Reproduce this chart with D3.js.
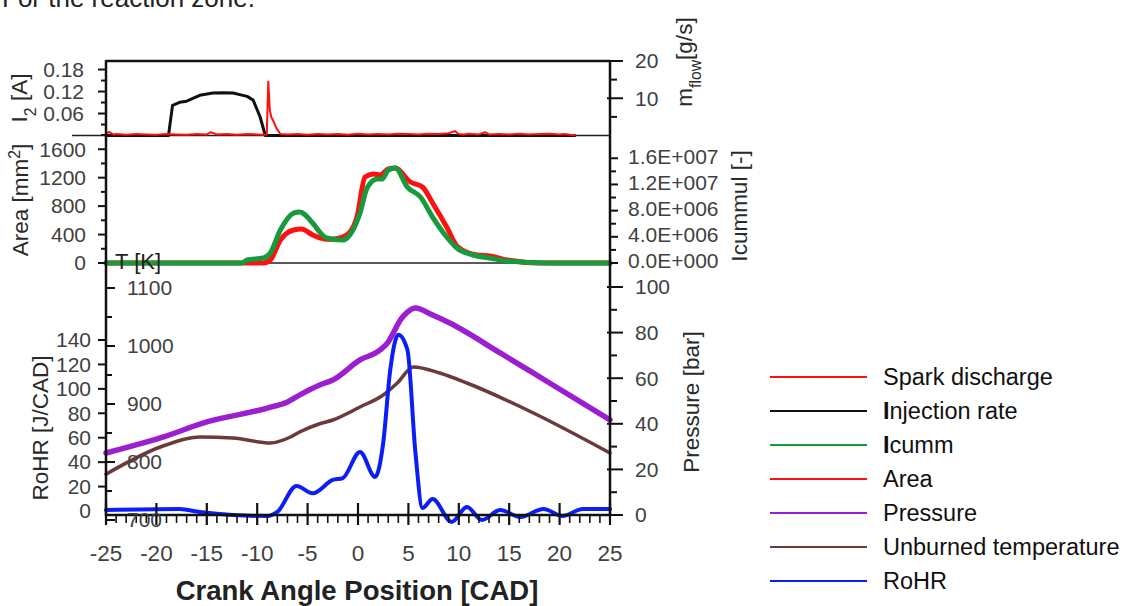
<!DOCTYPE html>
<html><head><meta charset="utf-8">
<script src="https://cdn.jsdelivr.net/npm/d3@7"></script>
<style>body{margin:0;background:#fff} svg{display:block} text{font-family:"Liberation Sans",Arial,sans-serif}</style>
</head><body><svg id="c" width="1127" height="606"></svg>
<script>
// ---------- data ----------
const xTicks = [-25,-20,-15,-10,-5,0,5,10,15,20,25];
// Panel 1: spark discharge current I2 [A] (left) and injection rate [g/s] (right)
const sparkCad = [-25,-24.7,-24.3,-24,-23,-22,-21,-20,-19,-18,-17,-16,-15,-14.6,-14,-13,-12,-11,-10,-9.5,-9.05,-8.9,-8.75,-8.6,-8.4,-8.1,-7.7,-7,-6,-5,-4,-3,-2,-1,0,1,2,3,4,5,6,7,8,9,9.6,10,10.5,11,12,12.6,13,14,15,16,17,18,19,20,20.5,21,21.5];
const sparkCurrent = [0.004,0.01,0.003,0.004,0.002,0.004,0.003,0.002,0.004,0.003,0.002,0.004,0.003,0.009,0.003,0.004,0.002,0.004,0.003,0.002,0.003,0.147,0.07,0.05,0.04,0.02,0.004,0.003,0.004,0.002,0.004,0.003,0.004,0.002,0.005,0.003,0.004,0.003,0.005,0.004,0.003,0.005,0.004,0.006,0.012,0.004,0.003,0.005,0.003,0.009,0.003,0.004,0.003,0.005,0.003,0.004,0.005,0.003,0.004,0.002,0.001];
const injCad = [-25,-18.8,-18.4,-17.7,-17.0,-15.7,-14.4,-13.4,-12.4,-11.0,-10.4,-9.7,-9.2,21.5];
const injRate = [0,0,8.1,8.9,9.2,10.8,11.4,11.5,11.4,10.5,9.5,4.9,0,0];
// Panel 2: flame area [mm2] (left) and cumulative intensity (right)
const areaCad = [-25,-9.4,-8.7,-7.7,-6.4,-5.6,-4.5,-3.8,-2.8,-1.8,-0.8,-0.1,0.7,1.5,2.2,3.0,3.7,5.2,6.4,7.4,8.8,9.9,11.8,13.1,14.8,18.1,25];
const areaVal = [0,0,42,323,464,478,394,352,330,352,436,647,1209,1252,1237,1322,1336,1139,1069,844,506,225,112,98,42,0,0];
const icummCad = [-25,-11.5,-11.0,-9.4,-8.7,-7.7,-6.4,-5.8,-4.5,-3.8,-3.1,-1.5,-0.5,0.2,0.9,1.9,2.4,3.0,3.7,4.9,6.2,7.4,8.8,9.8,11.4,13.1,14.8,19,25];
const icummVal = [0,0,0.46e6,0.76e6,1.53e6,5.04e6,7.63e6,7.79e6,6.11e6,4.73e6,3.82e6,3.51e6,5.04e6,7.63e6,11.45e6,12.82e6,12.82e6,14.2e6,14.5e6,11.6e6,10.08e6,7.02e6,3.97e6,2.29e6,1.22e6,0.76e6,0.31e6,0,0];
// Panel 3: pressure [bar], unburned temperature [K], RoHR [J/CAD]
const presCad = [-25,-19.6,-15,-9.0,-7.0,-5.8,-3.8,-2.5,0.2,2.2,3.0,3.5,4.2,4.9,5.7,7.4,9.1,14.1,19.0,25];
const presVal = [27.2,33.8,40.8,46.9,49.6,52.6,57.0,59.2,68.0,72.4,75.9,79.8,85.5,89.0,90.8,87.7,84.2,71.1,57.9,41.7];
const tempCad = [-25,-19.6,-15.7,-12.4,-8.7,-6.7,-5.8,-3.8,-2.5,0.2,2.5,3.9,5.5,8.1,10.8,17.4,25];
const tempVal = [779,825.9,843.1,841.4,832.8,843.1,851.7,866,872.4,894.8,915.5,936.2,963.8,953.4,936.2,884.5,815.5];
const rohrCad = [-25,-17.7,-15.7,-12.4,-9.0,-8.0,-6.1,-4.5,-2.5,-1.5,0.2,1.7,2.5,3.2,4.0,4.9,5.7,6.4,7.4,9.3,10.8,12.3,14.1,16.1,18.4,20.3,22.3,25];
const rohrVal = [0.8,1.6,-0.8,-3.3,-4.1,-0.8,20.5,14.5,25.4,27,48.4,27.9,55.7,115.6,144.3,132,47.5,2.5,9.8,-9,3.3,-7.4,0.8,-4.9,1.6,-4.1,1.6,1.6];
// tick labels
const i2Ticks = [0.06,0.12,0.18];
const flowTicks = [10,20];
const areaTicks = [0,400,800,1200,1600];
const icummTicks = [0,4e6,8e6,12e6,16e6];
const icummLabels = ["0.0E+000","4.0E+006","8.0E+006","1.2E+007","1.6E+007"];
const rohrTicks = [0,20,40,60,80,100,120,140];
const tempTicks = [700,800,900,1000,1100];
const presTicks = [0,20,40,60,80,100];
const legendNames = ["Spark discharge","Injection rate","Icumm","Area","Pressure","Unburned temperature","RoHR"];
const legendColors = ["#ff1010","#111111","#169a3c","#ff1010","#9b1fd0","#6b3a3a","#0a1ef5"];

// ---------- layout ----------
const svg = d3.select("#c");
const X0 = 106, X1 = 610;
const x = d3.scaleLinear().domain([-25,25]).range([X0,X1]);
const yI2 = d3.scaleLinear().domain([0,0.2]).range([135.5,62.2]);
const yFlow = d3.scaleLinear().domain([0,20]).range([135.5,61]);
const yArea = d3.scaleLinear().domain([0,1800]).range([263,135]);
const yIc = d3.scaleLinear().domain([0,1.94e7]).range([263,136]);
const yRohr = d3.scaleLinear().domain([0,140]).range([511,340]);
const yT = d3.scaleLinear().domain([700,1100]).range([520,288]);
const yP = d3.scaleLinear().domain([0,100]).range([515,287]);
const LAB = "#404040";

svg.append("text").attr("x",2).attr("y",7).attr("font-size",26).attr("fill","#222").text("For the reaction zone.");

function line(cad, vals, ys, color, w, curve){
  const data = cad.map((c,i)=>[c, vals[i]]);
  svg.append("path").datum(data)
    .attr("d", d3.line().x(d=>x(d[0])).y(d=>ys(d[1])).curve(curve||d3.curveMonotoneX))
    .attr("fill","none").attr("stroke",color).attr("stroke-width",w)
    .attr("stroke-linejoin","round").attr("stroke-linecap","round");
}

// frame lines
svg.append("line").attr("x1",X0).attr("x2",X1).attr("y1",61).attr("y2",61).attr("stroke","#111").attr("stroke-width",2.5);
svg.append("line").attr("x1",72).attr("x2",X1).attr("y1",135.5).attr("y2",135.5).attr("stroke","#222").attr("stroke-width",1.5);
svg.append("line").attr("x1",110).attr("x2",X1).attr("y1",263).attr("y2",263).attr("stroke","#222").attr("stroke-width",1.5);

// data lines
line(injCad, injRate, yFlow, "#111", 3, d3.curveLinear);
line(sparkCad, sparkCurrent, yI2, "#ff1010", 2, d3.curveLinear);
line(areaCad, areaVal, yArea, "#ff1010", 5);
line(icummCad, icummVal, yIc, "#169a3c", 5);
line(presCad, presVal, yP, "#9b1fd0", 5.5);
line(tempCad, tempVal, yT, "#6b3a3a", 3.5);
line(rohrCad, rohrVal, yRohr, "#0a1ef5", 4);

// axes lines
svg.append("line").attr("x1",X0).attr("x2",X0).attr("y1",60).attr("y2",516).attr("stroke","#111").attr("stroke-width",2.5);
svg.append("line").attr("x1",X1).attr("x2",X1).attr("y1",60).attr("y2",516).attr("stroke","#111").attr("stroke-width",2.5);
svg.append("line").attr("x1",X0).attr("x2",X1+1).attr("y1",515).attr("y2",515).attr("stroke","#111").attr("stroke-width",2.5);

function tick(x1,y1,x2,y2,w){svg.append("line").attr("x1",x1).attr("y1",y1).attr("x2",x2).attr("y2",y2).attr("stroke","#111").attr("stroke-width",w||2);}
function label(xp,yp,txt,anchor,size,col){
  return svg.append("text").attr("x",xp).attr("y",yp).attr("dy","0.35em").attr("text-anchor",anchor)
    .attr("font-size",size||21).attr("fill",col||LAB).text(txt);
}
// x axis
d3.range(-25,26,1).forEach(v=>{ if(v%5===0) tick(x(v),503,x(v),525,2.2); else tick(x(v),515,x(v),523,1.6); });
xTicks.forEach(v=>label(x(v),553,String(v),"middle",22.5));
svg.append("text").attr("x",357).attr("y",590).attr("dy","0.35em").attr("text-anchor","middle")
  .attr("font-size",27.5).attr("font-weight","bold").attr("fill","#222").text("Crank Angle Position [CAD]");

// panel 1 left
[0.03,0.06,0.09,0.12,0.15,0.18].forEach(v=>tick(X0-(i2Ticks.includes(v)?8:5),yI2(v),X0,yI2(v)));
i2Ticks.forEach(v=>label(84,yI2(v),String(v),"end"));
// panel 1 right
[5,10,15,20].forEach(v=>{const m=flowTicks.includes(v); tick(m?X1-3:X1,yFlow(v),X1+(m?13:7),yFlow(v));});
flowTicks.forEach(v=>label(635,yFlow(v),String(v),"start"));
// panel 2 left
d3.range(200,1801,200).forEach(v=>tick(X0-(v%400===0?8:5),yArea(v),X0,yArea(v)));
tick(X0-8,yArea(0),X0,yArea(0));
areaTicks.forEach(v=>label(86,yArea(v),String(v),"end"));
// panel 2 right
d3.range(0,1.61e7,2e6).forEach(v=>tick(X1,yIc(v),X1+(v%4e6===0?8:6),yIc(v)));
icummTicks.forEach((v,i)=>label(628,yIc(v)-2,icummLabels[i],"start"));
// panel 3 left: RoHR (outer) and T (inner)
rohrTicks.forEach(v=>{ if(v>0) tick(X0-8,yRohr(v),X0,yRohr(v)); });
rohrTicks.forEach(v=>label(91,yRohr(v),String(v),"end"));
d3.range(700,1101,50).forEach(v=>tick(X0,yT(v),X0+(v%100===0?9:6),yT(v)));
tempTicks.forEach(v=>label(127,yT(v),String(v),"start"));
svg.append("text").attr("x",115).attr("y",269).attr("font-size",22).attr("fill","#222").text("T [K]");
// panel 3 right
d3.range(0,101,10).forEach(v=>{const m=v%20===0; tick(m?X1-3:X1,yP(v),X1+(m?13:7),yP(v));});
presTicks.forEach(v=>label(635,yP(v),String(v),"start"));

// axis titles
function vtitle(cx,cy,parts,size){
  const t = svg.append("text").attr("transform",`translate(${cx},${cy}) rotate(-90)`).attr("text-anchor","middle")
    .attr("dy","0.35em").attr("font-size",size||22.5).attr("fill","#2a2a2a");
  parts.forEach(p=>{
    const s=t.append("tspan").text(p[0]);
    if(p[1]==="sub") s.attr("baseline-shift","sub").attr("font-size",(size||22.5)*0.7);
    if(p[1]==="sup") s.attr("baseline-shift","super").attr("font-size",(size||22.5)*0.7);
  });
}
vtitle(19,98,[["I"],["2","sub"],[" [A]"]]);
vtitle(20,200,[["Area [mm"],["2","sup"],["]"]]);
vtitle(40,428,[["RoHR [J/CAD]"]]);
vtitle(684,62,[["m"],["flow","sub"],["[g/s]"]]);
vtitle(739,206,[["Icummul [-]"]]);
vtitle(691,402,[["Pressure [bar]"]]);

// legend
legendNames.forEach((n,i)=>{
  const yy = 377 + i*34;
  svg.append("line").attr("x1",770).attr("x2",867).attr("y1",yy).attr("y2",yy).attr("stroke",legendColors[i]).attr("stroke-width",2);
  const t = svg.append("text").attr("x",883).attr("y",yy).attr("dy","0.35em").attr("font-size",23.5).attr("fill","#111");
  if(n[0]==="I"){ t.append("tspan").attr("font-weight","bold").text("I"); t.append("tspan").text(n.slice(1)); }
  else t.text(n);
});
</script></body></html>
